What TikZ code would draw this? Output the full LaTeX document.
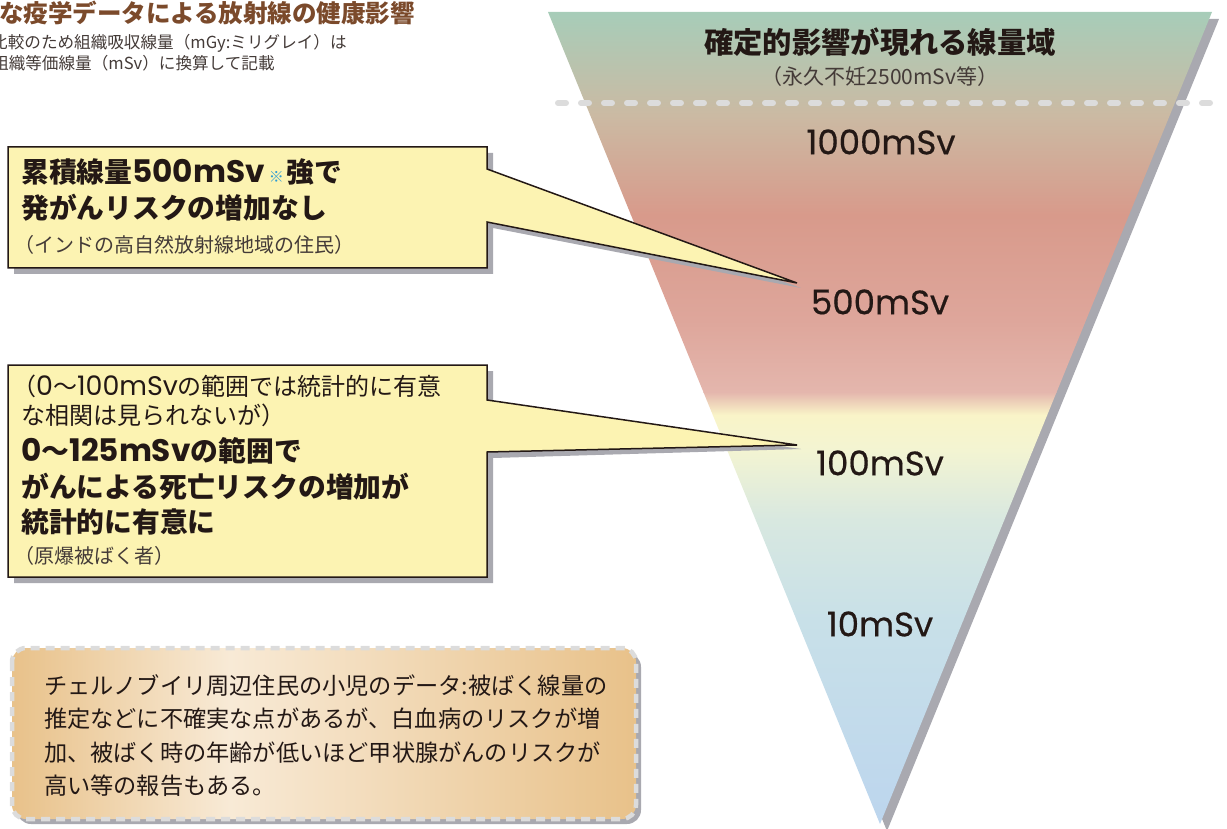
\documentclass[tikz,border=0pt]{standalone}
\usepackage{fontspec}
\setmainfont{Noto Sans CJK JP}
\newfontfamily\pop{Poppins}[Scale=1.12]
\newfontfamily\popm{Poppins}[FakeBold=0.5]
\definecolor{txt}{HTML}{231815}
\definecolor{brn}{HTML}{7B4A2B}
\definecolor{ylw}{HTML}{FCF3B2}
\definecolor{shd}{HTML}{A9A9B0}
\definecolor{dsh}{HTML}{DCDCDC}
\definecolor{kome}{HTML}{2A9BD6}
\definecolor{ca}{HTML}{A6CDB9}
\definecolor{cb}{HTML}{CBBAA3}
\definecolor{cc}{HTML}{D89A8B}
\definecolor{cd}{HTML}{DEA69B}
\definecolor{ce}{HTML}{E4B6AD}
\definecolor{cf}{HTML}{F9F4C8}
\definecolor{cg}{HTML}{F3F4D2}
\definecolor{ch}{HTML}{D8E8E0}
\definecolor{ci}{HTML}{C8E0E8}
\definecolor{cj}{HTML}{BCD5EE}
\definecolor{tanA}{HTML}{E8C189}
\definecolor{tanB}{HTML}{F8EAD6}
\begin{document}
\begin{tikzpicture}[x=1pt,y=-1pt,
  lbl/.style={text=txt,inner sep=0pt},
  dose/.style={lbl,font=\fontsize{34}{38}\selectfont\popm},
  callout/.style={fill=ylw,draw=txt,line width=1.5pt,line join=miter},
  cshadow/.style={fill=shd},
  big/.style={lbl,anchor=west,font=\fontsize{27.8}{30}\selectfont\bfseries},
  mid/.style={lbl,anchor=west,font=\fontsize{24}{26}\selectfont},
  small/.style={lbl,anchor=west,text=txt!85,font=\fontsize{20}{22}\selectfont},
  note/.style={lbl,anchor=west,font=\fontsize{23.2}{26}\selectfont}]
\useasboundingbox (0,0) rectangle (1227,829);

% ---------- title (cut at left) ----------
\node[lbl,anchor=west,text=brn,font=\fontsize{24.5}{28}\selectfont\bfseries] (title) at (-1,13) {な疫学データによる放射線の健康影響};
\node[lbl,anchor=west,text=txt!85,font=\fontsize{16.6}{18}\selectfont] (sub1) at (-9,43) {比較のため組織吸収線量（mGy:ミリグレイ）は};
\node[lbl,anchor=west,text=txt!85,font=\fontsize{16.6}{18}\selectfont] (sub2) at (-8,63) {組織等価線量（mSv）に換算して記載};

% ---------- triangle ----------
\coordinate (tl) at (548,12);
\coordinate (tr) at (1212,12);
\coordinate (ap) at (880,824);
\fill[shd] ([shift={(7,7)}]tl) -- ([shift={(7,7)}]tr) -- ([shift={(7,7)}]ap) -- cycle;
\begin{scope}
\clip (tl) -- (tr) -- (ap) -- cycle;
\shade[top color=ca,bottom color=cb] (540,10) rectangle (1220,115);
\shade[top color=cb,bottom color=cc] (540,115) rectangle (1220,215);
\shade[top color=cc,bottom color=cd] (540,215) rectangle (1220,320);
\shade[top color=cd,bottom color=ce] (540,320) rectangle (1220,392);
\shade[top color=ce,bottom color=cf] (540,392) rectangle (1220,415);
\shade[top color=cf,bottom color=cg] (540,415) rectangle (1220,450);
\shade[top color=cg,bottom color=ch] (540,450) rectangle (1220,520);
\shade[top color=ch,bottom color=ci] (540,520) rectangle (1220,620);
\shade[top color=ci,bottom color=cj] (540,620) rectangle (1220,830);
\end{scope}
\coordinate (dl) at (558,103);
\coordinate (dr) at (1215,103);
\draw[dsh,line width=6pt,line cap=round,dash pattern=on 8pt off 15pt] (dl) -- (dr);

\node[lbl,font=\fontsize{29.3}{32}\selectfont\bfseries] (det) at (880,42) {確定的影響が現れる線量域};
\node[lbl,text=txt!85,font=\fontsize{21}{23}\selectfont] (detsub) at (880,77) {（永久不妊2500mSv等）};
\node[dose] (d1000) at (881,142) {1000mSv};
\node[dose] (d500) at (880,302) {500mSv};
\node[dose] (d100) at (880,463) {100mSv};
\node[dose] (d10) at (880,624) {10mSv};

% ---------- callout 1 ----------
\coordinate (tip1) at (797,283);
\fill[cshadow] (14,153) -- (493,153) -- (493,175) -- ([shift={(4,5)}]tip1) -- (493,228) -- (493,274) -- (14,274) -- cycle;
\path[callout] (8,147) -- (487,147) -- (487,169) -- (tip1) -- (487,222) -- (487,268) -- (8,268) -- cycle;
\node[big] (a1) at (21,172) {累積線量{\pop 500mSv}\hspace{4pt}{\color{kome}\fontsize{15}{15}\selectfont ※}\hspace{3pt}強で};
\node[big] (a2) at (21,208) {発がんリスクの増加なし};
\node[small] (a3) at (14,245) {（インドの高自然放射線地域の住民）};

% ---------- callout 2 ----------
\coordinate (tip2) at (797,445);
\fill[cshadow] (14,371) -- (493,371) -- (493,406) -- ([shift={(4,4)}]tip2) -- (493,458) -- (493,583) -- (14,583) -- cycle;
\path[callout] (8,365) -- (487,365) -- (487,400) -- (tip2) -- (487,452) -- (487,577) -- (8,577) -- cycle;
\node[mid] (b1) at (12,386) {（{\pop 0}〜{\pop 100mSv}の範囲では統計的に有意};
\node[mid] (b2) at (21,415) {な相関は見られないが）};
\node[big] (b3) at (21,451) {{\pop 0}〜{\pop 125mSv}の範囲で};
\node[big] (b4) at (21,487) {がんによる死亡リスクの増加が};
\node[big] (b5) at (21,522) {統計的に有意に};
\node[small] (b6) at (14,556) {（原爆被ばく者）};

% ---------- bottom note ----------
\fill[shd,rounded corners=14pt] (17,653) rectangle (641,824);
\begin{scope}
\clip[rounded corners=14pt] (12,648) rectangle (636,819);
\shade[left color=tanA,right color=tanB] (10,640) rectangle (230,830);
\shade[left color=tanB,right color=tanA] (230,640) rectangle (640,830);
\end{scope}
\draw[dsh,line width=4.5pt,rounded corners=14pt,dash pattern=on 9pt off 6pt] (12,648) rectangle (636,819);
\node[note] (n1) at (44,686) {チェルノブイリ周辺住民の小児のデータ:被ばく線量の};
\node[note] (n2) at (44,719) {推定などに不確実な点があるが、白血病のリスクが増};
\node[note] (n3) at (44,753) {加、被ばく時の年齢が低いほど甲状腺がんのリスクが};
\node[note] (n4) at (44,786) {高い等の報告もある。};
\end{tikzpicture}
\end{document}
